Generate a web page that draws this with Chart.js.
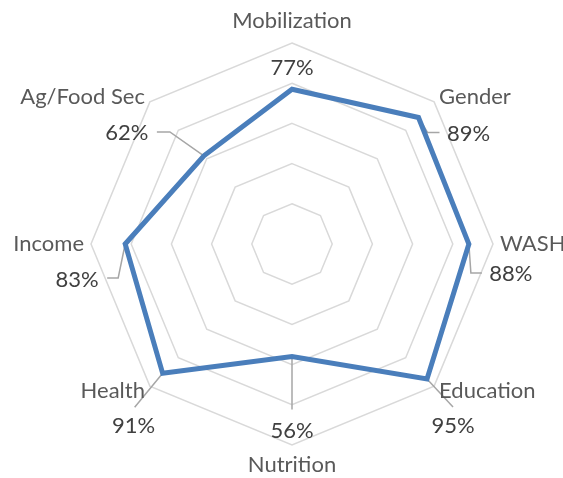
<!DOCTYPE html>
<html><head><meta charset="utf-8">
<script src="https://cdn.jsdelivr.net/npm/chart.js@4/dist/chart.umd.min.js"></script>
<style>html,body{margin:0;padding:0;background:#fff}#wrap{width:563px;height:478px;position:relative}</style>
</head><body><div id="wrap"><canvas id="c"></canvas></div>
<script>
const categories = ['Mobilization','Gender','WASH','Education','Nutrition','Health','Income','Ag/Food Sec'];
const values = [77, 89, 88, 95, 56, 91, 83, 62];
const valueLabels = values.map(v => v + '%');

// label placement relative to each data point (style only)
const labelOffsets = [[0,-21],[50,16],[42,30],[26,47],[0,74],[-29,53],[-48,36],[-77,-23]];
const leaderPaths = [
  [],
  [[9,15],[21,15]],
  [[2,29],[13,29]],
  [[26,28]],
  [[0,53]],
  [[-28,34]],
  [[-7,34],[-18,34]],
  [[-34,-24],[-47,-24]]
];
const FONT = '22px Lato';

const labelPlugin = {
  id: 'excelLabels',
  beforeDatasetsDraw(chart) {
    const ctx = chart.ctx;
    const meta = chart.getDatasetMeta(0);
    ctx.save();
    ctx.strokeStyle = '#a6a6a6';
    ctx.lineWidth = 1.5;
    meta.data.forEach((pt, i) => {
      const path = leaderPaths[i];
      if (!path.length) return;
      ctx.beginPath();
      ctx.moveTo(pt.x, pt.y);
      path.forEach(([dx, dy]) => ctx.lineTo(pt.x + dx, pt.y + dy));
      ctx.stroke();
    });
    ctx.restore();
  },
  afterDatasetsDraw(chart) {
    const ctx = chart.ctx;
    const meta = chart.getDatasetMeta(0);
    const scale = chart.scales.r;
    ctx.save();
    ctx.font = FONT;
    // data labels
    ctx.fillStyle = '#404040';
    ctx.textAlign = 'center';
    ctx.textBaseline = 'middle';
    meta.data.forEach((pt, i) => {
      ctx.fillText(valueLabels[i], pt.x + labelOffsets[i][0], pt.y + labelOffsets[i][1]);
    });
    // category labels
    ctx.fillStyle = '#595959';
    categories.forEach((c, i) => {
      const p = scale.getPointPosition(i, scale.drawingArea + 7);
      const dx = p.x - scale.xCenter;
      const dy = p.y - scale.yCenter;
      let y = p.y;
      if (Math.abs(dx) < 1) {
        ctx.textAlign = 'center';
        y += dy < 0 ? -15 : 13;
      } else {
        ctx.textAlign = dx > 0 ? 'left' : 'right';
      }
      ctx.fillText(c, p.x, y);
    });
    ctx.restore();
  }
};

function draw() {
  new Chart(document.getElementById('c'), {
    type: 'radar',
    data: {
      labels: categories,
      datasets: [{
        data: values,
        borderColor: '#4a7ebb',
        backgroundColor: 'rgba(0,0,0,0)',
        borderWidth: 5,
        pointRadius: 0,
        pointHoverRadius: 0,
        fill: false
      }]
    },
    options: {
      responsive: true,
      maintainAspectRatio: false,
      animation: false,
      layout: { padding: { top: 43, left: 91, right: 70, bottom: 33 } },
      plugins: { legend: { display: false }, tooltip: { enabled: false } },
      scales: {
        r: {
          min: 0, max: 100,
          ticks: { display: false, stepSize: 20 },
          grid: { circular: false, color: '#d9d9d9', lineWidth: 1.5 },
          angleLines: { display: false },
          pointLabels: { display: false }
        }
      }
    },
    plugins: [labelPlugin]
  });
}
if (document.fonts && document.fonts.load) {
  document.fonts.load(FONT).then(draw, draw);
} else draw();
</script></body></html>
